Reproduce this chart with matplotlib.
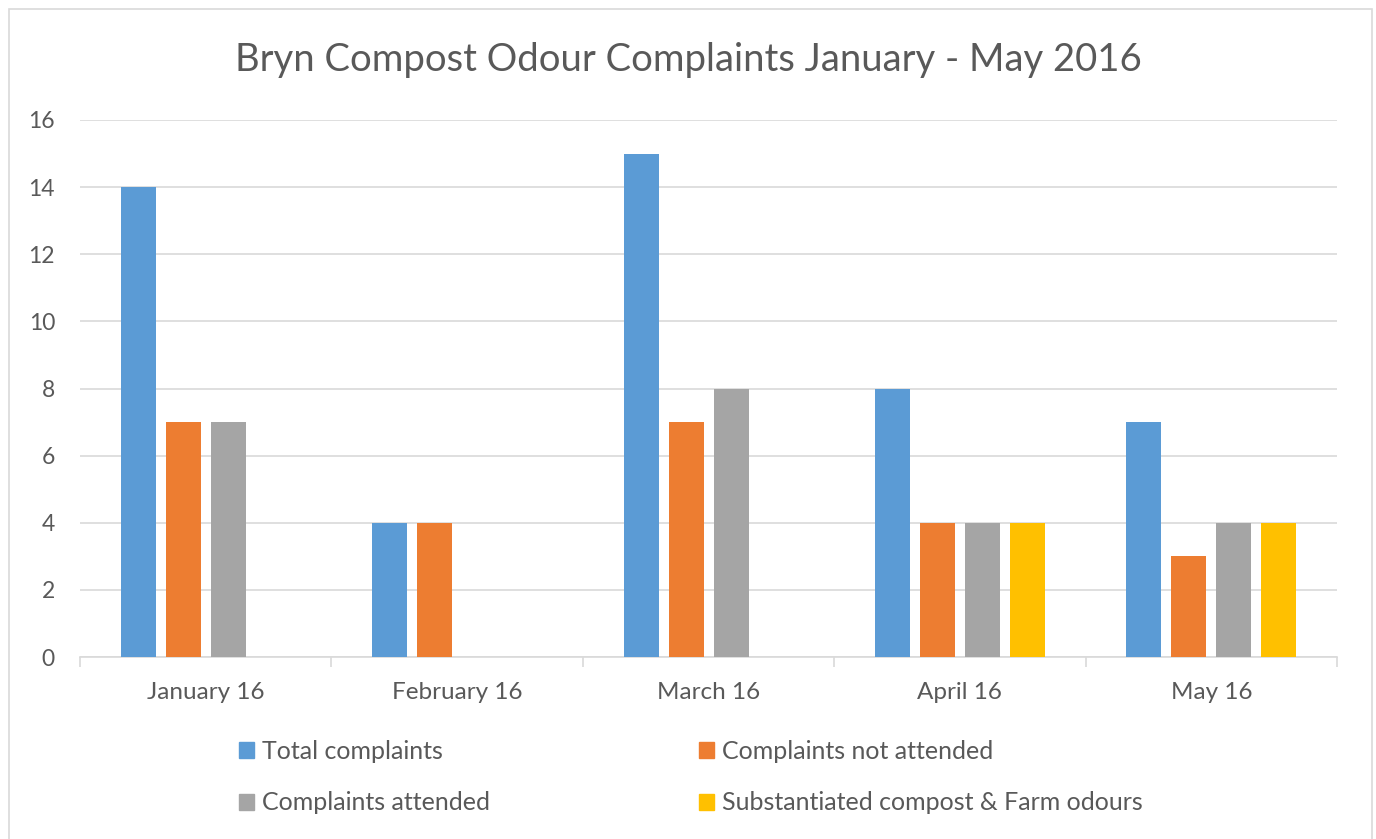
import matplotlib.pyplot as plt
import numpy as np
from matplotlib.patches import Rectangle, Patch

plt.rcParams['font.family'] = ['Lato', 'DejaVu Sans']

# Datos
meses = ['January 16', 'February 16', 'March 16', 'April 16', 'May 16']
total = [14, 4, 15, 8, 7]
no_atendidas = [7, 4, 7, 4, 3]
atendidas = [7, 0, 8, 4, 4]
sustanciadas = [0, 0, 0, 4, 4]

series = ['Total complaints', 'Complaints not attended',
          'Complaints attended', 'Substantiated compost & Farm odours']
colores = ['#5B9BD5', '#ED7D31', '#A5A5A5', '#FFC000']
gris_texto = '#595959'

fig = plt.figure(figsize=(13.76, 8.39), dpi=100)
ax = fig.add_axes([80/1376, 1-657/839, (1337-80)/1376, (657-120)/839])

x = np.arange(len(meses))
ancho = 35/251.4
paso = 45/251.4
offsets = (np.arange(4) - 1.5) * paso

for k, vals in enumerate([total, no_atendidas, atendidas, sustanciadas]):
    ax.bar(x + offsets[k], vals, width=ancho, color=colores[k], label=series[k], zorder=3)

ax.set_xlim(-0.5, len(meses) - 0.5)
ax.set_ylim(0, 16)
ax.set_yticks(range(0, 17, 2))
ax.grid(axis='y', color='#D9D9D9', linewidth=1.2, zorder=0)
for s in ['top', 'right', 'left']:
    ax.spines[s].set_visible(False)
ax.spines['bottom'].set_color('#D9D9D9')
ax.spines['bottom'].set_linewidth(1.2)

ax.set_xticks(x)
ax.set_xticklabels(meses)
ax.set_xticks(np.arange(-0.5, len(meses)), minor=True)
ax.tick_params(axis='x', which='major', length=0, pad=18, labelsize=17.5, labelcolor=gris_texto)
ax.tick_params(axis='x', which='minor', length=7, color='#D9D9D9', width=1.2)
ax.tick_params(axis='y', length=0, pad=18, labelsize=16.5, labelcolor=gris_texto)

fig.text(0.5, 1-60/839, 'Bryn Compost Odour Complaints January - May 2016',
         ha='center', va='center', fontsize=27.5, color=gris_texto)

# Leyenda: una por columna
kw = dict(frameon=False, fontsize=18, labelcolor=gris_texto, handlelength=0.6,
          handleheight=0.6, handletextpad=0.3, labelspacing=1.15, borderpad=0,
          borderaxespad=0, loc='center left')
fig.legend([Patch(color=colores[0]), Patch(color=colores[2])],
           [series[0], series[2]], bbox_to_anchor=(239/1376, 1-777/839), **kw)
fig.legend([Patch(color=colores[1]), Patch(color=colores[3])],
           [series[1], series[3]], bbox_to_anchor=(699/1376, 1-777/839), **kw)

fig.patches.append(Rectangle((9/1376, -0.01), (1372-9)/1376, 1-9/839 + 0.01,
                             transform=fig.transFigure, fill=False,
                             edgecolor='#D9D9D9', linewidth=1.2))

fig.savefig('out.png', dpi=100)
